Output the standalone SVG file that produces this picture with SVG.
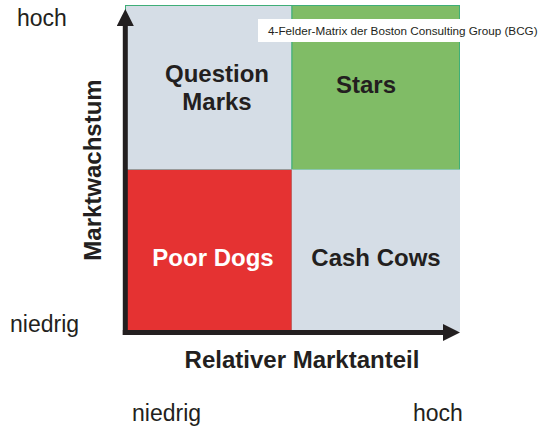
<svg xmlns="http://www.w3.org/2000/svg" width="544" height="428" viewBox="0 0 544 428">
<style>
.lbl{font-family:"Liberation Sans",Arial,sans-serif;font-weight:bold;font-size:24px;fill:#231f20;text-anchor:middle}
.reg{font-family:"Liberation Sans",Arial,sans-serif;font-size:23px;fill:#231f20}
.ax{stroke:#231f20;stroke-width:5;fill:none}
</style>
<defs>
<marker id="ah" viewBox="0 0 17 17" refX="0" refY="8.5" markerWidth="17" markerHeight="17" markerUnits="userSpaceOnUse" orient="auto">
<path d="M0,0 L17,8.5 L0,17 z" fill="#231f20"/>
</marker>
</defs>
<rect width="544" height="428" fill="#fff"/>
<g id="question-marks">
<rect x="125.5" y="5.5" width="166.5" height="164" fill="#d5dde6" stroke="#3fae78" stroke-width="1"/>
<text class="lbl" x="217" y="82">Question</text>
<text class="lbl" x="217" y="110">Marks</text>
</g>
<g id="stars">
<rect x="292" y="5.5" width="167.5" height="164" fill="#80bc66" stroke="#3fae78" stroke-width="1"/>
<text class="lbl" x="366" y="93">Stars</text>
</g>
<g id="poor-dogs">
<rect x="125.5" y="169.5" width="166.5" height="162" fill="#e53232" stroke="#999" stroke-width="1"/>
<text class="lbl" x="213" y="266" style="fill:#fff">Poor Dogs</text>
</g>
<g id="cash-cows">
<rect x="292" y="169.5" width="168" height="162" fill="#d5dde6"/>
<text class="lbl" x="376" y="266">Cash Cows</text>
</g>
<g id="title">
<rect x="258" y="19" width="286" height="23" fill="#fff"/>
<text x="268" y="35" style="font-family:'Liberation Sans',Arial,sans-serif;font-size:11.7px;fill:#231f20">4-Felder-Matrix der Boston Consulting Group (BCG)</text>
</g>
<g id="connectors">
<line class="ax" x1="125.3" y1="335" x2="125.3" y2="26" marker-end="url(#ah)"/>
<line class="ax" x1="122.8" y1="332.5" x2="443" y2="332.5" marker-end="url(#ah)"/>
</g>
<g id="axis-labels">
<text class="lbl" x="0" y="0" transform="translate(101,170) rotate(-90)">Marktwachstum</text>
<text class="lbl" x="302" y="368">Relativer Marktanteil</text>
<text class="reg" x="17" y="26">hoch</text>
<text class="reg" x="10" y="332">niedrig</text>
<text class="reg" x="132" y="421">niedrig</text>
<text class="reg" x="413" y="421">hoch</text>
</g>
</svg>
